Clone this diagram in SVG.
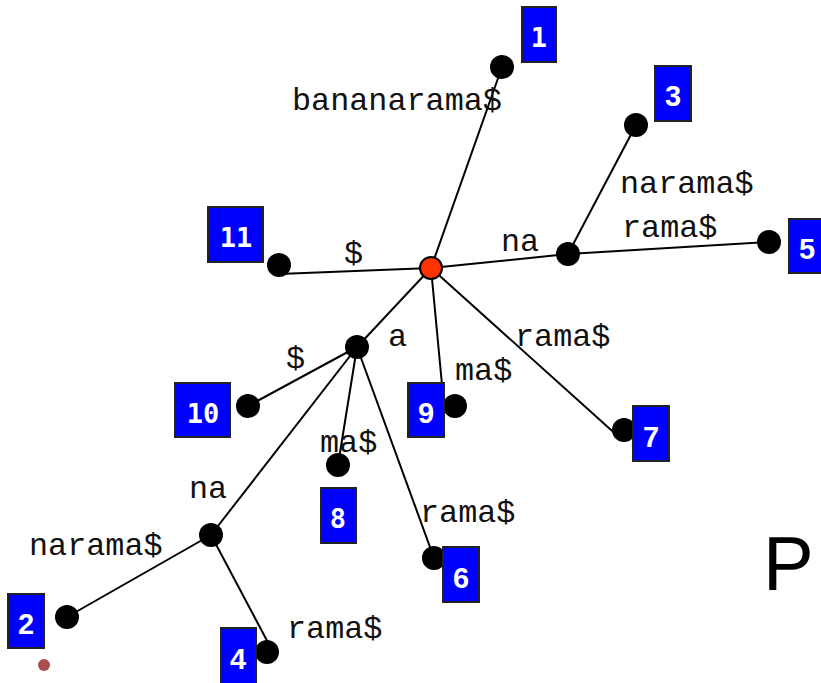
<svg xmlns="http://www.w3.org/2000/svg" width="821" height="683" viewBox="0 0 821 683">
<style>
.e{stroke:#000;stroke-width:2;fill:none}
.n{fill:#000}
.lbl{font-family:"Liberation Mono","DejaVu Sans Mono",monospace;font-size:31.8px;fill:#111}
.box{fill:#0000ff;stroke:#222;stroke-width:2}
.d{font-family:"Liberation Sans",Arial,sans-serif;font-weight:bold;font-size:29px;fill:#fff;text-anchor:middle}
.dm{font-family:"DejaVu Sans Mono","Liberation Mono",monospace;font-weight:bold;font-size:27px;fill:#fff;text-anchor:middle}
</style>
<rect width="821" height="683" fill="#fff"/>
<g id="connectors">
<line class="e" x1="431" y1="268" x2="502" y2="67"/>
<line class="e" x1="431" y1="268" x2="279" y2="274"/>
<line class="e" x1="431" y1="268" x2="568" y2="254"/>
<line class="e" x1="568" y1="254" x2="636" y2="125"/>
<line class="e" x1="568" y1="254" x2="769" y2="242"/>
<line class="e" x1="431" y1="268" x2="357" y2="347"/>
<line class="e" x1="431" y1="268" x2="444" y2="406"/>
<line class="e" x1="431" y1="268" x2="620" y2="438"/>
<line class="e" x1="357" y1="347" x2="248" y2="406"/>
<line class="e" x1="357" y1="347" x2="338" y2="465"/>
<line class="e" x1="357" y1="347" x2="211" y2="535"/>
<line class="e" x1="357" y1="347" x2="434" y2="558"/>
<line class="e" x1="211" y1="535" x2="67" y2="617"/>
<line class="e" x1="211" y1="535" x2="273" y2="652"/>
</g>
<g id="root"><circle cx="431" cy="268" r="11" fill="#ff3300" stroke="#000" stroke-width="2"/></g>
<g id="node-na"><circle class="n" cx="568" cy="254" r="12"/><text class="lbl" x="501" y="251">na</text></g>
<g id="node-a"><circle class="n" cx="357" cy="347" r="12"/><text class="lbl" x="388" y="346">a</text></g>
<g id="node-ana"><circle class="n" cx="211" cy="535" r="12"/><text class="lbl" x="189" y="498">na</text></g>
<g id="leaf1"><circle class="n" cx="502" cy="67" r="12"/><rect class="box" x="522" y="7" width="34" height="55"/><text class="dm" x="539" y="47">1</text><text class="lbl" x="292" y="110">bananarama$</text></g>
<g id="leaf3"><circle class="n" cx="636" cy="125" r="12"/><rect class="box" x="655" y="66" width="36" height="55"/><text class="d" x="673" y="106">3</text><text class="lbl" x="620" y="193">narama$</text></g>
<g id="leaf5"><circle class="n" cx="769" cy="242" r="12"/><rect class="box" x="789" y="219" width="36" height="54"/><text class="d" x="807" y="259">5</text><text class="lbl" x="622" y="237">rama$</text></g>
<g id="leaf11"><circle class="n" cx="279" cy="265" r="12"/><rect class="box" x="208" y="207" width="55" height="55"/><text class="dm" x="236" y="247">11</text><text class="lbl" x="344" y="263">$</text></g>
<g id="leaf10"><circle class="n" cx="248" cy="406" r="12"/><rect class="box" x="175" y="383" width="55" height="54"/><text class="dm" x="203" y="423">10</text><text class="lbl" x="286" y="368">$</text></g>
<g id="leaf9"><circle class="n" cx="455" cy="406" r="12"/><rect class="box" x="408" y="383" width="36" height="54"/><text class="d" x="426" y="423">9</text><text class="lbl" x="455" y="380">ma$</text></g>
<g id="leaf7"><circle class="n" cx="624" cy="430" r="12"/><rect class="box" x="633" y="406" width="36" height="55"/><text class="d" x="651" y="447">7</text><text class="lbl" x="515" y="346">rama$</text></g>
<g id="leaf8"><circle class="n" cx="338" cy="465" r="12"/><rect class="box" x="321" y="488" width="35" height="55"/><text class="dm" x="338" y="528">8</text><text class="lbl" x="320" y="452">ma$</text></g>
<g id="leaf6"><circle class="n" cx="434" cy="558" r="12"/><rect class="box" x="443" y="547" width="36" height="55"/><text class="d" x="461" y="588">6</text><text class="lbl" x="420" y="522">rama$</text></g>
<g id="leaf2"><circle class="n" cx="67" cy="617" r="12"/><rect class="box" x="8" y="594" width="36" height="54"/><text class="d" x="26" y="634">2</text><text class="lbl" x="29" y="555">narama$</text></g>
<g id="leaf4"><circle class="n" cx="267" cy="652" r="12"/><rect class="box" x="221" y="628" width="35" height="57"/><text class="d" x="238" y="669">4</text><text class="lbl" x="287" y="638">rama$</text></g>
<text x="763" y="590" font-family="'Liberation Sans',Arial,sans-serif" font-size="76" fill="#000">P</text>
<circle cx="44" cy="665" r="6" fill="#a33a3a" opacity="0.9"/>
</svg>
